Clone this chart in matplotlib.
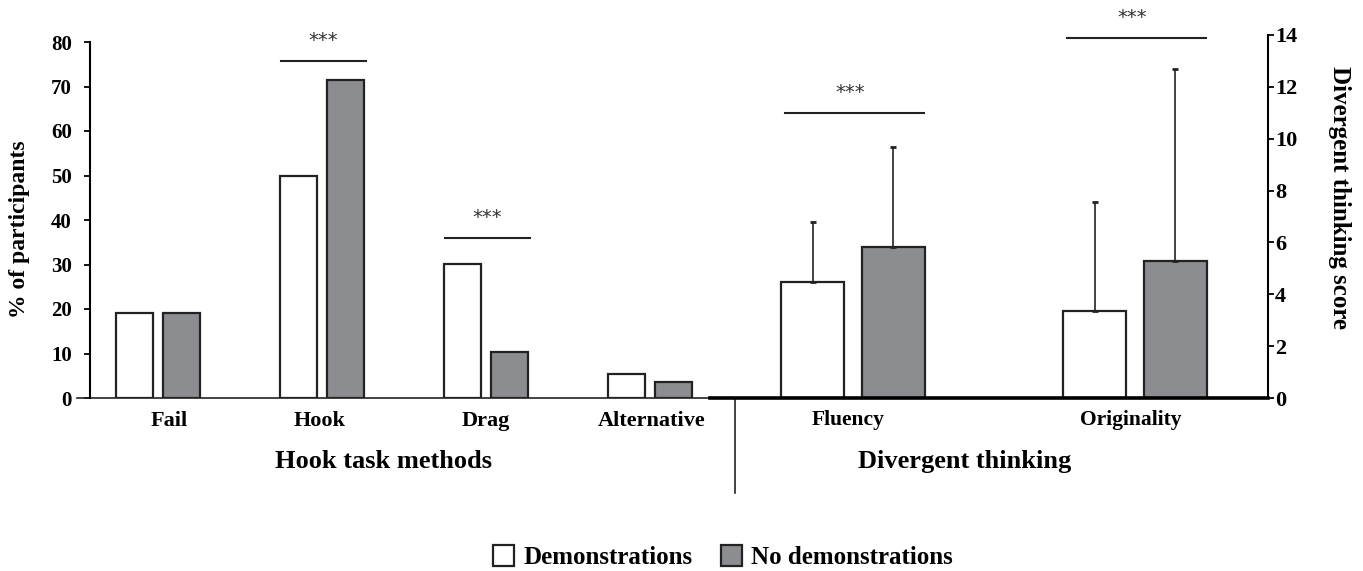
import numpy as np
import matplotlib.pyplot as plt
import matplotlib.patches as mpatches

plt.rcParams['font.family'] = ['Liberation Serif', 'DejaVu Serif']
plt.rcParams['font.weight'] = 'bold'

W, H = 1363, 571

# hook task methods (% of participants)
methods = ['Fail', 'Hook', 'Drag', 'Alternative']
demo_pct = [19.2, 49.8, 30.1, 5.3]
nodemo_pct = [19.2, 71.5, 10.4, 3.7]

# divergent thinking scores
dt_cats = ['Fluency', 'Originality']
demo_dt = [4.47, 3.36]
nodemo_dt = [5.82, 5.3]
demo_sd = [2.32, 4.2]
nodemo_sd = [3.86, 7.38]

grey = '#8c8d91'
ink = '#222222'


def px_axes(x0, y0, x1, y1):
    # pixel box (top-left origin) -> figure axes
    return fig.add_axes([x0 / W, 1 - y1 / H, (x1 - x0) / W, (y1 - y0) / H])


def px_text(x, y, s, **kw):
    fig.text(x / W, 1 - y / H, s, **kw)


fig = plt.figure(figsize=(W / 100, H / 100), dpi=100)

##########################################
# left panel

ax1 = px_axes(90, 42, 714, 398)
x = np.arange(len(methods))
bw = 0.226
off = 0.145
ax1.bar(x - off, demo_pct, bw, color='white', edgecolor=ink, lw=1.6)
ax1.bar(x + off, nodemo_pct, bw, color=grey, edgecolor=ink, lw=1.6)
ax1.set_xlim(-68 / 164, -68 / 164 + 624 / 164)
ax1.set_ylim(0, 80)
ax1.set_yticks(range(0, 81, 10))
ax1.tick_params(axis='y', direction='out', length=4, width=1.3, labelsize=15, pad=9)
ax1.set_xticks([])
for s in ['top', 'right', 'bottom']:
    ax1.spines[s].set_visible(False)
ax1.spines['left'].set_linewidth(1.5)
ax1.plot([-13 / 624, 1], [0, 0], color=ink, lw=1.2,
         transform=ax1.get_yaxis_transform(), clip_on=False)
for i, name in enumerate(methods):
    ax1.text(i + [0.067, -0.012, 0, 0.012][i], -5.1, name, ha='center', va='center', fontsize=16)
ax1.text(1.372, -14.3, 'Hook task methods', ha='center', va='center', fontsize=19)

# significance marks
for i, yl in [(1, 75.7), (2, 36.0)]:
    ax1.plot([i - 0.25, i + 0.27], [yl, yl], color=ink, lw=1.5, clip_on=False)
    ax1.text(i + 0.01, yl + 2.4, '***', ha='center', va='bottom', fontsize=14,
             fontweight='normal', family='DejaVu Sans', color='#333333')

##########################################
# right panel

ax2 = px_axes(710, 35, 1268, 398)
x2 = np.arange(len(dt_cats))
bw2 = 0.224
off2 = 0.143
ax2.bar(x2 - off2, demo_dt, bw2, color='white', edgecolor=ink, lw=1.6)
ax2.bar(x2 + off2, nodemo_dt, bw2, color=grey, edgecolor=ink, lw=1.6)
ax2.errorbar(x2 - off2, demo_dt, yerr=[np.zeros(2), demo_sd], fmt='none',
             ecolor=ink, elinewidth=1.2, capsize=2.5, capthick=2)
ax2.errorbar(x2 + off2, nodemo_dt, yerr=[np.zeros(2), nodemo_sd], fmt='none',
             ecolor=ink, elinewidth=1.2, capsize=2.5, capthick=2)
ax2.set_xlim(-143 / 282, -143 / 282 + 558 / 282)
ax2.set_ylim(0, 14)
ax2.set_yticks(range(0, 15, 2))
ax2.yaxis.tick_right()
ax2.tick_params(axis='y', direction='out', length=4, width=1.3, labelsize=16, pad=1)
ax2.set_xticks([])
for s in ['top', 'left']:
    ax2.spines[s].set_visible(False)
ax2.spines['right'].set_linewidth(1.5)
ax2.spines['bottom'].set_linewidth(2.6)
for i, name in enumerate(dt_cats):
    ax2.text(i + [-0.018, -0.014][i], -0.85, name, ha='center', va='center', fontsize=15.5)
ax2.text(0.397, -2.45, 'Divergent thinking', ha='center', va='center', fontsize=19)

for i, yl in [(0, 11.0), (1, 13.9)]:
    ax2.plot([i - 0.24, i + 0.25], [yl, yl], color=ink, lw=1.5, clip_on=False)
    ax2.text(i - 0.01, yl + 0.42, '***', ha='center', va='bottom', fontsize=14,
             fontweight='normal', family='DejaVu Sans', color='#333333', clip_on=False)

# separator between the two panels
ax2.plot([25 / 558, 25 / 558], [0, -3.65], color=ink, lw=1.2,
         transform=ax2.get_yaxis_transform(), clip_on=False)

##########################################
# axis titles and legend

px_text(20, 229, '% of participants', rotation=90, ha='center', va='center', fontsize=17)
px_text(1339, 197, 'Divergent thinking score', rotation=-90, ha='center', va='center', fontsize=18)

handles = [mpatches.Patch(facecolor='white', edgecolor=ink, lw=1.6, label='Demonstrations'),
           mpatches.Patch(facecolor=grey, edgecolor=ink, lw=1.6, label='No demonstrations')]
fig.legend(handles=handles, loc='center', bbox_to_anchor=(723 / W, 1 - 557 / H), ncol=2,
           frameon=False, fontsize=18, handlelength=0.85, handleheight=0.9,
           handletextpad=0.36, columnspacing=1.16, borderpad=0.1)

fig.savefig('out.png', dpi=100)
